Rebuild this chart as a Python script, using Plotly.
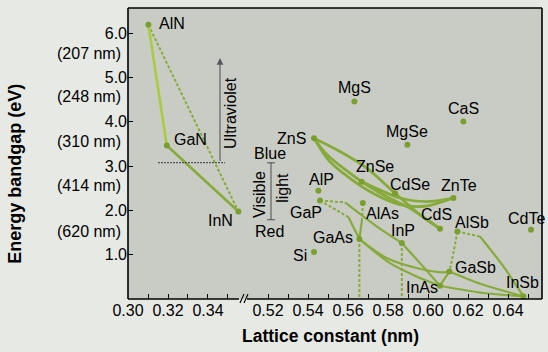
import plotly.graph_objects as go

# ---------------- data ----------------
# nitrides (left, narrow lattice-constant range)
left_names = ["AlN", "GaN", "InN"]
left_a = [0.3102, 0.3194, 0.3552]
left_eg = [6.19, 3.465, 1.976]

# other compounds (right range)
right_names = ["MgS", "CaS", "MgSe", "ZnS", "ZnSe", "CdSe", "ZnTe", "CdS",
               "AlP", "GaP", "AlAs", "GaAs", "InP", "Si", "AlSb", "GaSb",
               "InAs", "InSb", "CdTe"]
right_a = [0.5632, 0.6177, 0.5897, 0.5430, 0.5668, 0.5835, 0.6127, 0.6060,
           0.5452, 0.5460, 0.5674, 0.5657, 0.5869, 0.5430, 0.6147, 0.6107,
           0.6060, 0.6477, 0.6515]
right_eg = [4.457, 4.006, 3.48, 3.63, 2.65, 2.39, 2.28, 1.586,
            2.443, 2.224, 2.166, 1.353, 1.263, 1.06, 1.525, 0.623,
            0.30, 0.06, 1.563]

# alloy curves: node names or (lattice, bandgap) waypoints
left_solid_bright = [["AlN", "GaN"]]
left_solid = [["GaN", "InN"]]
left_dashed = [["AlN", "InN"]]

right_solid_thick = [
    ["ZnS", (0.5560, 3.33), (0.5694, 2.955), "CdSe", (0.5960, 1.90), "CdS"],
    ["ZnS", (0.5493, 3.27), "ZnSe", (0.5793, 2.31), (0.5910, 2.05), "CdS"],
    ["ZnS", (0.5510, 3.10), (0.5694, 2.465), (0.5860, 2.13), (0.5993, 2.10), "ZnTe"],
    ["ZnSe", (0.5860, 2.28), (0.5993, 2.20), "ZnTe"],
]
right_solid = [
    [(0.5585, 2.18), (0.5743, 1.64), "InP"],
    [(0.5602, 1.85), "GaAs"],
    [(0.5670, 1.80), "GaAs"],
    ["GaAs", (0.5793, 0.925), (0.5943, 0.70), (0.6077, 0.60), "GaSb"],
    ["GaAs", (0.5810, 0.81), (0.5943, 0.51), "InAs"],
    ["InP", (0.5960, 0.81), "InAs"],
    ["InAs", (0.6277, 0.135), "InSb"],
    ["GaSb", (0.6277, 0.32), "InSb"],
    ["InAs", "GaSb"],
    [(0.6260, 1.41), (0.6377, 0.735), "InSb"],
]
right_dashed = [
    ["GaP", (0.5585, 2.18)],
    ["GaP", (0.5602, 1.85)],
    ["AlAs", (0.5670, 1.80)],
    ["AlSb", (0.6127, 1.04), "GaSb"],
    ["AlSb", (0.6260, 1.41)],
    ["GaAs", (0.5657, 0.0)],
    ["InP", (0.5869, 0.0)],
]

y_ticks = [1, 2, 3, 4, 5, 6]
y_tick_text = ["1.0", "2.0", "3.0", "4.0", "5.0", "6.0"]
wavelength_text = ["(207 nm)", "(248 nm)", "(310 nm)", "(414 nm)", "(620 nm)"]
wavelength_pos = [5.55, 4.57, 3.56, 2.57, 1.53]

left_ticks = [0.30, 0.31, 0.32, 0.33, 0.34, 0.35]
left_tick_text = ["0.30", "", "0.32", "", "0.34", ""]
right_ticks = [0.52, 0.53, 0.54, 0.55, 0.56, 0.57, 0.58, 0.59, 0.60, 0.61, 0.62, 0.63, 0.64, 0.65]
right_tick_text = ["0.52", "", "0.54", "", "0.56", "", "0.58", "", "0.60", "", "0.62", "", "0.64", ""]

uv_edge_ev = 3.08
uv_top_ev = 5.44
visible_top_ev = 3.075
visible_bottom_ev = 1.79

# ---------------- styling ----------------
FONT = "Liberation Sans, Arial, sans-serif"
LINE = "#87ab3b"
BRIGHT = "#a9cc3e"
DOT = "#7b9f2f"
GUIDE = "#55585a"
PLOT_BG = "#c9ccc4"

lookup = {}
for n, a, e in zip(left_names, left_a, left_eg):
    lookup[n] = (a, e)
for n, a, e in zip(right_names, right_a, right_eg):
    lookup[n] = (a, e)


def resolve(path):
    xs, ys = [], []
    for p in path:
        a, e = lookup[p] if isinstance(p, str) else p
        xs.append(a)
        ys.append(e)
    return xs, ys


fig = go.Figure()


def add_curves(paths, axis, color, width, dash="solid"):
    for path in paths:
        xs, ys = resolve(path)
        fig.add_trace(go.Scatter(
            x=xs, y=ys, xaxis=axis, yaxis="y", mode="lines",
            line=dict(color=color, width=width, dash=dash,
                      shape="spline" if len(xs) > 2 else "linear", smoothing=0.8),
            hoverinfo="skip", showlegend=False))


add_curves(left_dashed, "x", LINE, 2, "3px,2px")
add_curves(left_solid_bright, "x", BRIGHT, 2.6)
add_curves(left_solid, "x", LINE, 2.6)
add_curves(right_dashed, "x2", LINE, 2, "3px,2px")
add_curves(right_solid, "x2", LINE, 2.2)
add_curves(right_solid_thick, "x2", LINE, 2.8)

fig.add_trace(go.Scatter(x=left_a, y=left_eg, xaxis="x", yaxis="y", mode="markers",
                         marker=dict(color=DOT, size=6), cliponaxis=False,
                         hoverinfo="skip", showlegend=False))
fig.add_trace(go.Scatter(x=right_a, y=right_eg, xaxis="x2", yaxis="y", mode="markers",
                         marker=dict(color=DOT, size=6), cliponaxis=False,
                         hoverinfo="skip", showlegend=False))

# label offsets (pixels): xanchor, xshift, yshift
label_style = {
    "AlN": ("left", 9, 1), "GaN": ("left", 5, 6), "InN": ("center", -18, -9),
    "MgS": ("center", 0, 14), "CaS": ("center", 0, 13), "MgSe": ("center", 0, 13),
    "ZnS": ("right", -6, 0), "ZnSe": ("center", 13, 15), "AlP": ("center", 3, 11),
    "CdSe": ("center", 15, 9), "ZnTe": ("center", 6, 13), "GaP": ("center", -14, -12),
    "AlAs": ("center", 20, -10), "CdS": ("center", -4, 14), "AlSb": ("center", 15, 9),
    "CdTe": ("center", -5, 11), "InP": ("center", 1, 13), "GaAs": ("right", -4, 2),
    "Si": ("right", -5, -3), "GaSb": ("left", 4, 4), "InAs": ("center", -18, -2),
    "InSb": ("center", -1, 14),
}
for names, axis in ((left_names, "x"), (right_names, "x2")):
    for n in names:
        xa, xs, ys = label_style[n]
        a, e = lookup[n]
        fig.add_annotation(x=a, y=e, xref=axis, yref="y", text=n, showarrow=False,
                           xanchor=xa, yanchor="middle", xshift=xs, yshift=ys,
                           font=dict(family=FONT, size=16, color="black"))

# ultraviolet guide
fig.add_shape(type="line", xref="x", yref="y", x0=0.315, x1=0.3485, y0=uv_edge_ev, y1=uv_edge_ev,
              line=dict(color=GUIDE, width=1.4, dash="2px,1px"))
fig.add_annotation(x=0.346, y=uv_top_ev, ax=0.346, ay=uv_edge_ev, xref="x", yref="y",
                   axref="x", ayref="y", showarrow=True, arrowhead=2, arrowsize=1.2,
                   arrowwidth=1.1, arrowcolor=GUIDE, text="")
fig.add_annotation(x=0.3515, y=4.2, xref="x", yref="y", text="Ultraviolet", textangle=-90,
                   showarrow=False, font=dict(family=FONT, size=16, color="black"))

# visible light guide
fig.add_shape(type="line", xref="x2", yref="y", x0=0.5215, x1=0.5215,
              y0=visible_bottom_ev, y1=visible_top_ev, line=dict(color=GUIDE, width=1.1))
for yv in (visible_bottom_ev, visible_top_ev):
    fig.add_shape(type="line", xref="x2", yref="y", x0=0.5195, x1=0.5235, y0=yv, y1=yv,
                  line=dict(color=GUIDE, width=1.1))
fig.add_annotation(x=0.521, y=3.278, xref="x2", yref="y", text="Blue", showarrow=False,
                   font=dict(family=FONT, size=16, color="black"))
fig.add_annotation(x=0.5205, y=1.518, xref="x2", yref="y", text="Red", showarrow=False,
                   font=dict(family=FONT, size=16, color="black"))
fig.add_annotation(x=0.516, y=2.35, xref="x2", yref="y", text="Visible", textangle=-90,
                   showarrow=False, font=dict(family=FONT, size=16, color="black"))
fig.add_annotation(x=0.5275, y=2.51, xref="x2", yref="y", text="light", textangle=-90,
                   showarrow=False, font=dict(family=FONT, size=16, color="black"))

# wavelength labels on the y axis
for t, yv in zip(wavelength_text, wavelength_pos):
    fig.add_annotation(x=0, y=yv, xref="paper", yref="y", text=t, showarrow=False,
                       xanchor="right", xshift=-5, font=dict(family=FONT, size=16, color="black"))

# axis titles
fig.add_annotation(x=0.488, y=0, xref="paper", yref="paper", yshift=-37, yanchor="middle",
                   xanchor="center", text="<b>Lattice constant (nm)</b>",
                   showarrow=False, font=dict(family=FONT, size=17.5, color="black"))
fig.add_annotation(x=0, y=0.43, xref="paper", yref="paper", xshift=-113, xanchor="center",
                   yanchor="middle", text="<b>Energy bandgap (eV)</b>",
                   textangle=-90, showarrow=False, font=dict(family=FONT, size=18, color="black"))

# continuous plot background across the axis break
fig.add_shape(type="rect", xref="paper", yref="paper", x0=0, x1=1, y0=0, y1=1,
              fillcolor=PLOT_BG, line=dict(width=0), layer="below")

# frame with axis break
frame = dict(color="black", width=1.6)
fig.add_shape(type="line", xref="paper", yref="paper", x0=0, x1=0, y0=0, y1=1, line=frame)
fig.add_shape(type="line", xref="paper", yref="paper", x0=0, x1=1, y0=1, y1=1, line=frame)
fig.add_shape(type="line", xref="paper", yref="paper", x0=1, x1=1, y0=0, y1=1, line=frame)
fig.add_shape(type="line", xref="paper", yref="paper", x0=0, x1=0.268, y0=0, y1=0, line=frame)
fig.add_shape(type="line", xref="paper", yref="paper", x0=0.2874, x1=1, y0=0, y1=0, line=frame)
for dx in (0.0, 0.0097):
    fig.add_shape(type="line", xref="paper", yref="paper", x0=0.2705 + dx, x1=0.2802 + dx,
                  y0=-0.0137, y1=0.0172, line=dict(color="black", width=1.1))

tick_common = dict(ticks="inside", ticklen=5, tickwidth=1.2, tickcolor="black",
                   showgrid=False, zeroline=False, showline=False,
                   tickfont=dict(family=FONT, size=16, color="black"))
fig.update_layout(
    width=548, height=352,
    margin=dict(l=128, r=6, t=8, b=53),
    paper_bgcolor="#e7e9e5",
    plot_bgcolor=PLOT_BG,
    showlegend=False,
    xaxis=dict(domain=[0, 0.2705], range=[0.30, 0.356], tickvals=left_ticks,
               ticktext=left_tick_text, anchor="y", **tick_common),
    xaxis2=dict(domain=[0.2802, 1], range=[0.508, 0.657], tickvals=right_ticks,
                ticktext=right_tick_text, anchor="y", **tick_common),
    yaxis=dict(range=[0, 6.57], tickvals=y_ticks, ticktext=y_tick_text, anchor="x", **tick_common),
)

fig.write_html("out.html")
